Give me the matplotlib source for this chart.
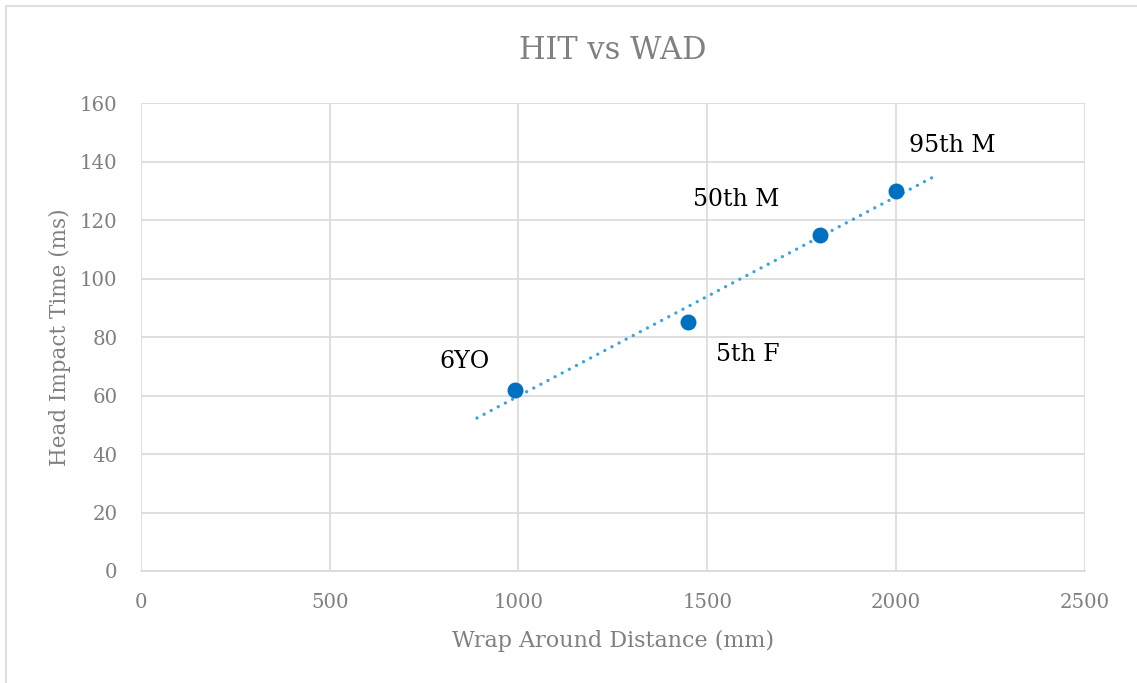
import numpy as np
import matplotlib.pyplot as plt
from matplotlib.patches import Rectangle

# Data
subjects = ["6YO", "5th F", "50th M", "95th M"]
wad_mm = [990, 1450, 1800, 2000]
hit_ms = [62, 85, 115, 130]

# Label positions (data coords, centre of text)
label_x = [858, 1607, 1578, 2148]
label_y = [71.5, 74, 127, 145.6]

plt.rcParams['font.family'] = ['DejaVu Serif']
gray = '#808080'
grid_col = '#d9d9d9'

fig = plt.figure(figsize=(11.37, 6.83), dpi=100)
ax = fig.add_axes([0.124, 0.164, 0.830, 0.685])

# Chart border (only top/left visible in the reference)
fig.patches.append(Rectangle((6 / 1137, -0.1), 1.2, 1.1 - 6 / 683,
                             transform=fig.transFigure, fill=False,
                             edgecolor=grid_col, linewidth=1.2))

# Linear trendline, extended 100 mm each way
slope, intercept = np.polyfit(wad_mm, hit_ms, 1)
tx = np.array([min(wad_mm) - 100, max(wad_mm) + 100])
ax.plot(tx, slope * tx + intercept, linestyle=(0, (0.01, 2.4)), color='#3aa3e3',
        linewidth=2.4, dash_capstyle='round', zorder=2)

ax.scatter(wad_mm, hit_ms, s=110, color='#0070c0', zorder=3)

for name, lx, ly in zip(subjects, label_x, label_y):
    ax.text(lx, ly, name, fontsize=17, color='black', ha='center', va='center')

ax.set_xlim(0, 2500)
ax.set_ylim(0, 160)
ax.set_xticks(range(0, 2501, 500))
ax.set_yticks(range(0, 161, 20))
ax.grid(True, color=grid_col, linewidth=1.2)
ax.set_axisbelow(True)
for side in ['top', 'right', 'left']:
    ax.spines[side].set_visible(False)
ax.spines['bottom'].set_color(grid_col)
ax.spines['bottom'].set_linewidth(1.2)
ax.tick_params(axis='x', length=0, labelsize=14.2, labelcolor=gray, pad=16)
ax.tick_params(axis='y', length=0, labelsize=14.2, labelcolor=gray, pad=17)

ax.set_title("HIT vs WAD", fontsize=22, color=gray, pad=32)
ax.set_xlabel("Wrap Around Distance (mm)", fontsize=16, color=gray, labelpad=13)
ax.set_ylabel("Head Impact Time (ms)", fontsize=15.5, color=gray, labelpad=6)

plt.savefig("out.png", dpi=100)
